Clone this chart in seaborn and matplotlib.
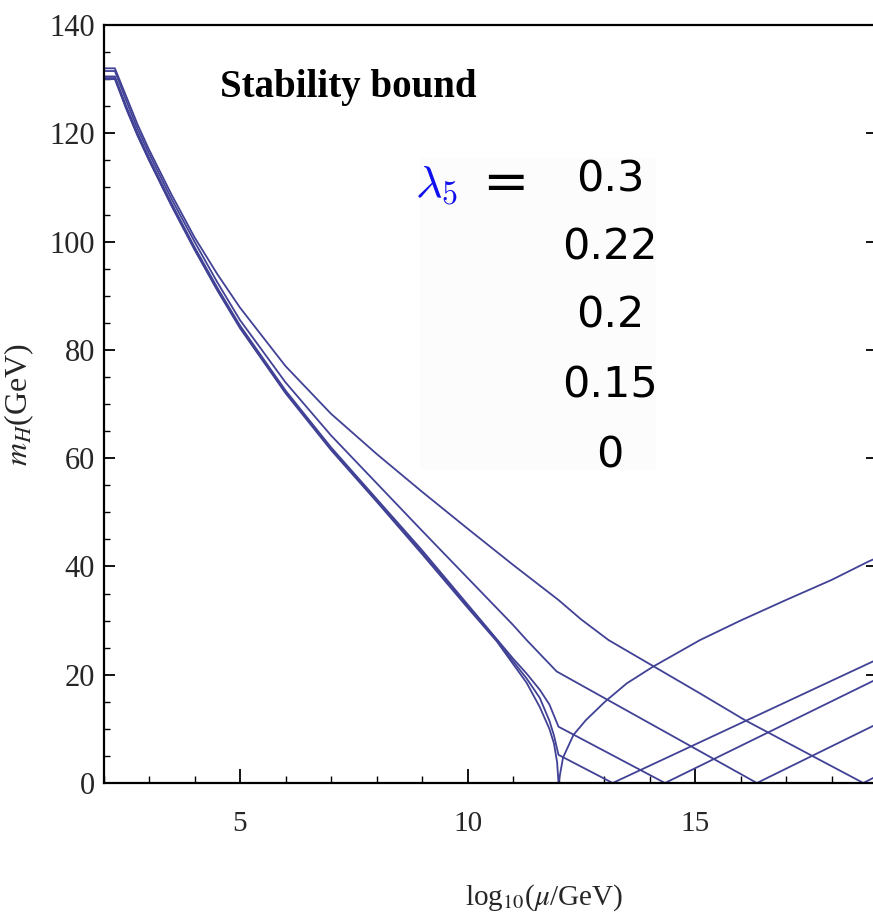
import numpy as np
import pandas as pd
import matplotlib
matplotlib.use("Agg")
import matplotlib.pyplot as plt
import seaborn as sns
from matplotlib.ticker import MultipleLocator, FixedLocator
from matplotlib.patches import Rectangle

# ---- data (x = log10(mu/GeV), y = m_H in GeV) ----
lam_labels = ["0.3", "0.22", "0.2", "0.15", "0"]

x_03 = [2.0, 2.25, 2.5, 2.75, 3.0, 3.5, 4.0, 4.5, 5.0, 6.0, 7.0, 8.0, 9.0, 10.0, 11.0, 12.0, 12.5, 13.1, 15.1, 16.1, 17.6, 18.7, 19.0]
y_03 = [132.0, 132.0, 126.8, 121.6, 117.0, 108.6, 100.8, 94.0, 87.8, 77.0, 68.2, 60.8, 53.8, 47.0, 40.3, 33.8, 30.2, 26.4, 16.6, 11.6, 4.9, 0.0, 1.3]

x_022 = [2.0, 2.25, 2.5, 2.75, 3.0, 3.5, 4.0, 4.5, 5.0, 6.0, 7.0, 8.0, 9.0, 10.0, 11.0, 11.3, 11.96, 16.36, 19.0]
y_022 = [131.5, 131.5, 126.0, 120.8, 116.3, 107.8, 100.0, 92.5, 85.5, 74.0, 64.2, 55.4, 46.6, 37.9, 29.2, 26.4, 20.6, 0.0, 10.9]

x_020 = [2.0, 2.25, 2.5, 2.75, 3.0, 3.5, 4.0, 4.5, 5.0, 6.0, 7.0, 8.0, 9.0, 10.0, 10.64, 11.0, 11.3, 11.59, 11.8, 12.0, 14.34, 19.0]
y_020 = [130.5, 130.5, 125.0, 120.0, 115.5, 107.0, 99.0, 91.5, 84.5, 72.5, 62.0, 52.5, 43.0, 33.0, 26.6, 23.0, 20.2, 17.2, 14.5, 10.4, 0.0, 19.2]

x_015 = [2.0, 2.25, 2.5, 2.75, 3.0, 3.5, 4.0, 4.5, 5.0, 6.0, 7.0, 8.0, 9.0, 10.0, 10.64, 11.0, 11.3, 11.59, 11.8, 11.9, 12.0, 13.19, 19.0]
y_015 = [130.2, 130.2, 124.7, 119.7, 115.2, 106.7, 98.7, 91.2, 84.2, 72.2, 61.7, 52.2, 42.6, 32.7, 26.4, 22.5, 19.3, 15.7, 11.5, 8.8, 5.2, 0.0, 22.8]

x_000 = [2.0, 2.25, 2.5, 2.75, 3.0, 3.5, 4.0, 4.5, 5.0, 6.0, 7.0, 8.0, 9.0, 10.0, 10.64, 11.0, 11.3, 11.59, 11.8, 11.9, 11.97, 12.0,
         12.1, 12.33, 12.6, 13.02, 13.5, 14.08, 15.11, 16.0, 17.0, 18.0, 18.81, 19.0]
y_000 = [130.0, 130.0, 124.5, 119.5, 115.0, 106.5, 98.5, 91.0, 84.0, 72.0, 61.5, 52.0, 42.3, 32.4, 26.2, 22.0, 18.5, 14.0, 10.0, 7.3, 3.8, 0.0,
         4.7, 8.9, 11.6, 15.0, 18.4, 21.5, 26.4, 30.0, 33.8, 37.5, 40.9, 41.6]

curves_x = [x_03, x_022, x_020, x_015, x_000]
curves_y = [y_03, y_022, y_020, y_015, y_000]

df = pd.concat(
    [pd.DataFrame({"x": cx, "y": cy, "lam": lab}) for cx, cy, lab in zip(curves_x, curves_y, lam_labels)],
    ignore_index=True,
)

# ---- figure ----
sns.set_theme(style="ticks")
plt.rcParams["font.family"] = ["Liberation Serif", "DejaVu Serif"]
plt.rcParams["mathtext.fontset"] = "stix"

W, H = 873, 922
fig = plt.figure(figsize=(W / 100, H / 100), dpi=100)
ax = fig.add_axes([103.5 / W, (H - 783) / H, (877 - 103.5) / W, (783 - 25) / H])

# very faint box behind the legend values
fig.patches.append(Rectangle((420 / W, 1 - 470 / H), 236 / W, 312 / H, transform=fig.transFigure,
                             facecolor="#fcfcfc", edgecolor="none", zorder=0))

line_color = "#414196"
sns.lineplot(data=df, x="x", y="y", units="lam", estimator=None, sort=False,
             color=line_color, linewidth=1.3, ax=ax, legend=False)
ax.patch.set_alpha(0)

ax.set_xlim(2, 19)
ax.set_ylim(0, 140)

ax.xaxis.set_major_locator(FixedLocator([5, 10, 15]))
ax.xaxis.set_minor_locator(MultipleLocator(1))
ax.yaxis.set_major_locator(MultipleLocator(20))
ax.yaxis.set_minor_locator(MultipleLocator(5))

ax.tick_params(axis="both", which="both", direction="in", color="black")
ax.tick_params(axis="x", which="major", length=10, width=1.3, pad=20, labelsize=21)
ax.tick_params(axis="x", which="minor", length=5, width=1.0)
ax.tick_params(axis="y", which="major", length=8, width=1.3, pad=6, labelsize=22, right=True)
ax.tick_params(axis="y", which="minor", length=4.5, width=1.0, right=False)

for sp in ax.spines.values():
    sp.set_color("black")
    sp.set_linewidth(1.6)

ax.set_xlabel("")
ax.set_ylabel(r"$m_H$(GeV)", fontsize=23, labelpad=10)
fig.text(544 / W, 1 - 898 / H, r"log$_{10}$($\mu$/GeV)", fontsize=21, ha="center", va="center")

fig.text(220 / W, 1 - 97 / H, "Stability bound", fontsize=28, fontweight="bold",
         family=["Liberation Serif"], color="black")

fig.text(415 / W, 1 - 197 / H, r"$\lambda_{\mathsf{5}}$", fontsize=33, color="#1010ee", math_fontfamily="cm")
fig.text(505 / W, 1 - 185 / H, "=", fontsize=40, color="black", family=["DejaVu Sans"],
         ha="center", va="center")
val_y = [180, 247, 316, 385, 455]
for lab, yy in zip(lam_labels, val_y):
    fig.text(610 / W, 1 - yy / H, lab, fontsize=31, family=["DejaVu Sans"],
             ha="center", va="center", color="black")

fig.savefig("out.png", dpi=100)
